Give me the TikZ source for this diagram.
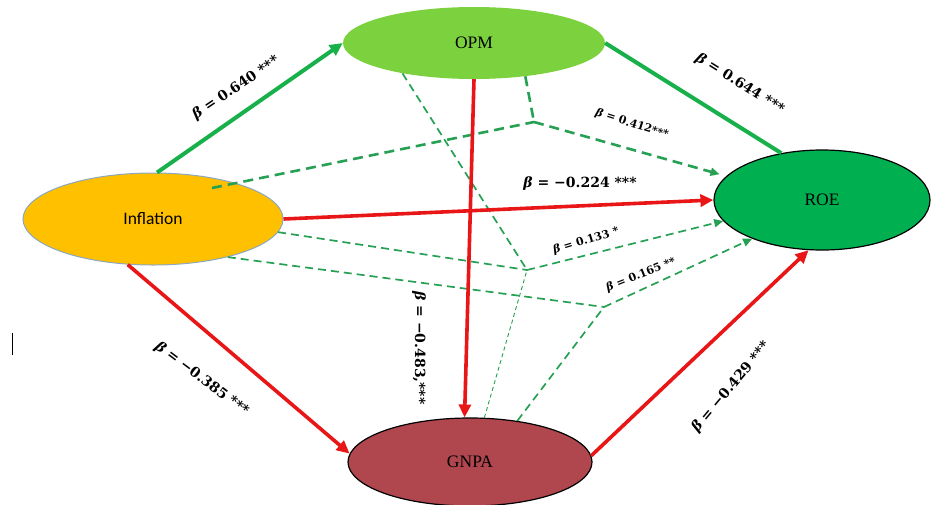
\documentclass[tikz,border=0pt]{standalone}
\usepackage{fontspec}
\setmainfont{Liberation Serif}
\newfontfamily\calibri{Carlito}
\newfontfamily\coeffont{DejaVu Serif}
\usetikzlibrary{shapes.geometric,arrows.meta}
\definecolor{inflfill}{RGB}{255,192,0}
\definecolor{inflline}{RGB}{140,168,190}
\definecolor{opmfill}{RGB}{124,210,62}
\definecolor{roefill}{RGB}{0,176,80}
\definecolor{gnpafill}{RGB}{176,70,78}
\definecolor{pathgreen}{RGB}{24,176,74}
\definecolor{pathred}{RGB}{232,22,22}
\definecolor{dashgreen}{RGB}{38,160,82}
\newcommand{\bb}{\textit{β}}

\begin{document}
\begin{tikzpicture}[x=1pt,y=-1pt,
  var/.style={ellipse,inner sep=0pt,font=\fontsize{17.5}{20}\selectfont},
  coef/.style={inner sep=1pt,font=\coeffont\fontsize{14}{16}\selectfont\bfseries},
  coefs/.style={inner sep=1pt,font=\coeffont\fontsize{11}{13}\selectfont\bfseries},
  solidg/.style={draw=pathgreen,line width=4pt},
  solidr/.style={draw=pathred,line width=3.6pt},
  bigtip/.style={-{Triangle[length=13pt,width=12pt]}},
  smalltip/.style={-{Triangle[length=9pt,width=8pt]}},
  dthick/.style={draw=dashgreen,line width=2.6pt,dash pattern=on 10pt off 6pt},
  dmid/.style={draw=dashgreen,line width=1.7pt,dash pattern=on 8pt off 5pt},
  dfine/.style={draw=dashgreen,line width=0.9pt,dash pattern=on 4pt off 3pt}]
\useasboundingbox (0,0) rectangle (931,504);
\node[var,fill=inflfill,draw=inflline,line width=1pt,minimum width=260pt,minimum height=92pt]
  (infl) at (153,219) {\calibri Inflation};
\node[var,fill=opmfill,minimum width=262pt,minimum height=72pt] (opm) at (474,43) {OPM};
\node[var,fill=roefill,draw=black,line width=1.2pt,minimum width=216pt,minimum height=100pt]
  (roe) at (822,200) {ROE};
\node[var,fill=gnpafill,draw=black,line width=1.2pt,minimum width=244pt,minimum height=88pt]
  (gnpa) at (470,462) {GNPA};
\coordinate (jA) at (534,122);
\coordinate (jB) at (527,270);
\coordinate (jC) at (604,307);
\draw[dthick] ([xshift=59pt,yshift=31pt]infl.center) -- (jA);
\draw[dthick] (opm.-33) -- (jA);
\draw[dthick,smalltip,shorten >=7pt] (jA) -- (roe.166);
\draw[dmid] (infl.-6) -- (jB);
\draw[dmid] (opm.-157) -- (jB);
\draw[dfine] (gnpa.72) -- (jB);
\draw[dmid,smalltip] (jB) -- (roe.192);
\draw[dmid] (infl.-27) -- (jC);
\draw[dmid] (gnpa.41) -- (jC);
\draw[dmid,smalltip] (jC) -- (roe.209);
\draw[solidg,bigtip] (infl.85) -- (opm.west);
\draw[solidg] (opm.east) -- (roe.131);
\draw[solidr,bigtip] (infl.east) -- (roe.west);
\draw[solidr,bigtip] (opm.south) -- (gnpa.97);
\draw[solidr,bigtip] (infl.-119) -- (gnpa.176);
\draw[solidr,bigtip] (gnpa.3) -- (roe.255);
\node[coef,rotate=34] (c640) at (236,88) {\bb{} = 0.640 ***};
\node[coef,rotate=-32] (c644) at (740,84) {\bb{} = 0.644 ***};
\node[coefs,rotate=-18] (c412) at (632,124) {\bb{} = 0.412***};
\node[coef] (c224) at (580,184) {\bb{} = −0.224 ***};
\node[coefs,rotate=17] (c133) at (586,241) {\bb{} = 0.133 *};
\node[coefs,rotate=22] (c165) at (641,275) {\bb{} = 0.165 **};
\node[coef,rotate=-90] (c483) at (419,348) {\bb{} = −0.483,***};
\node[coef,rotate=-37] (c385) at (202,379) {\bb{} = −0.385 ***};
\node[coef,rotate=50] (c429) at (731,387) {\bb{} = −0.429 ***};
\draw[line width=0.8pt] (12,333) -- (12,355);
\end{tikzpicture}
\end{document}
